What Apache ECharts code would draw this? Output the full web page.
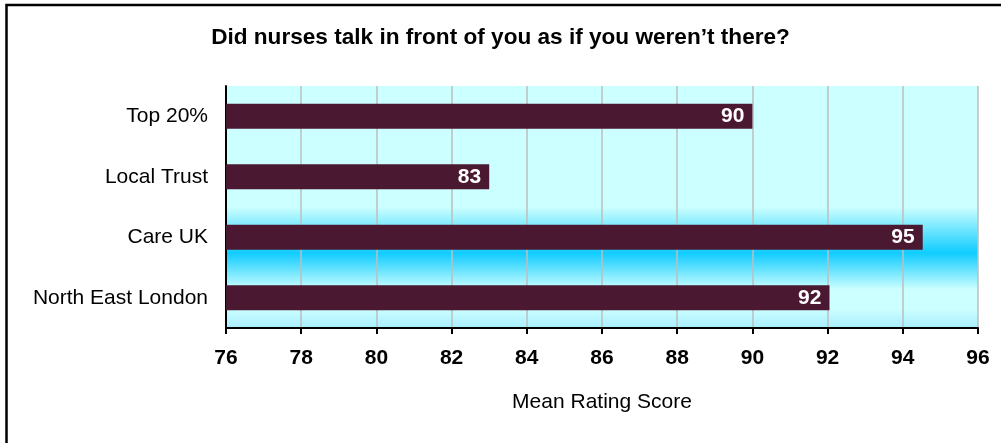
<!DOCTYPE html>
<html>
<head>
<meta charset="utf-8">
<script src="https://cdn.jsdelivr.net/npm/echarts@6/dist/echarts.min.js"></script>
<style>
  html, body { margin: 0; padding: 0; background: #fff; }
  #chart { width: 1001px; height: 443px; }
</style>
</head>
<body>
<div id="chart"></div>
<script>
// data
const categories = ['Top 20%', 'Local Trust', 'Care UK', 'North East London']
const scores = [90.0, 83.0, 94.53, 92.05]
const xMin = 76
const xMax = 96
const xStep = 2

const font = "'Liberation Sans', Arial, sans-serif"

const chart = echarts.init(document.getElementById('chart'))
chart.setOption({
  backgroundColor: '#fff',
  animation: false,
  title: {
    text: 'Did nurses talk in front of you as if you weren\u2019t there?',
    left: 'center',
    top: 21,
    textStyle: { fontFamily: font, fontSize: 22.6, fontWeight: 'bold', color: '#000' }
  },
  graphic: [{
    // outer chart frame (clipped on right and bottom in the source)
    type: 'rect',
    shape: { x: 6.5, y: 5, width: 1100, height: 600 },
    style: { fill: 'none', stroke: '#000', lineWidth: 2.5 },
    silent: true
  }],
  grid: {
    left: 226, right: 23, top: 86, bottom: 115,
    show: true,
    borderWidth: 0,
    backgroundColor: new echarts.graphic.LinearGradient(0, 0, 0, 1, [
      { offset: 0, color: '#CCFFFF' },
      { offset: 0.5, color: '#CCFFFF' },
      { offset: 0.69, color: '#10CCFF' },
      { offset: 0.84, color: '#CCFFFF' },
      { offset: 0.92, color: '#CCFFFF' },
      { offset: 1, color: '#A8EEFF' }
    ])
  },
  xAxis: {
    type: 'value',
    min: xMin,
    max: xMax,
    interval: xStep,
    name: 'Mean Rating Score',
    nameLocation: 'middle',
    nameGap: 64,
    nameTextStyle: { fontFamily: font, fontSize: 21, color: '#000' },
    axisLine: { show: true, lineStyle: { color: '#000', width: 2 } },
    axisTick: { show: true, length: 6, lineStyle: { color: '#000', width: 2 } },
    axisLabel: { margin: 20, fontFamily: font, fontSize: 21, fontWeight: 'bold', color: '#000' },
    splitLine: { show: true, lineStyle: { color: '#BEBEBE', width: 1.5 } }
  },
  yAxis: {
    type: 'category',
    data: categories,
    inverse: true,
    axisLine: { show: true, lineStyle: { color: '#000', width: 2 } },
    axisTick: { show: false },
    axisLabel: { margin: 18, fontFamily: font, fontSize: 21, color: '#000' },
    splitLine: { show: false }
  },
  series: [{
    type: 'bar',
    data: scores,
    barWidth: 25,
    itemStyle: { color: '#4A1830' },
    label: {
      show: true,
      position: 'insideRight',
      distance: 8,
      color: '#fff',
      fontFamily: font,
      fontSize: 21,
      fontWeight: 'bold',
      formatter: p => Math.round(p.value)
    }
  }]
})
</script>
</body>
</html>
